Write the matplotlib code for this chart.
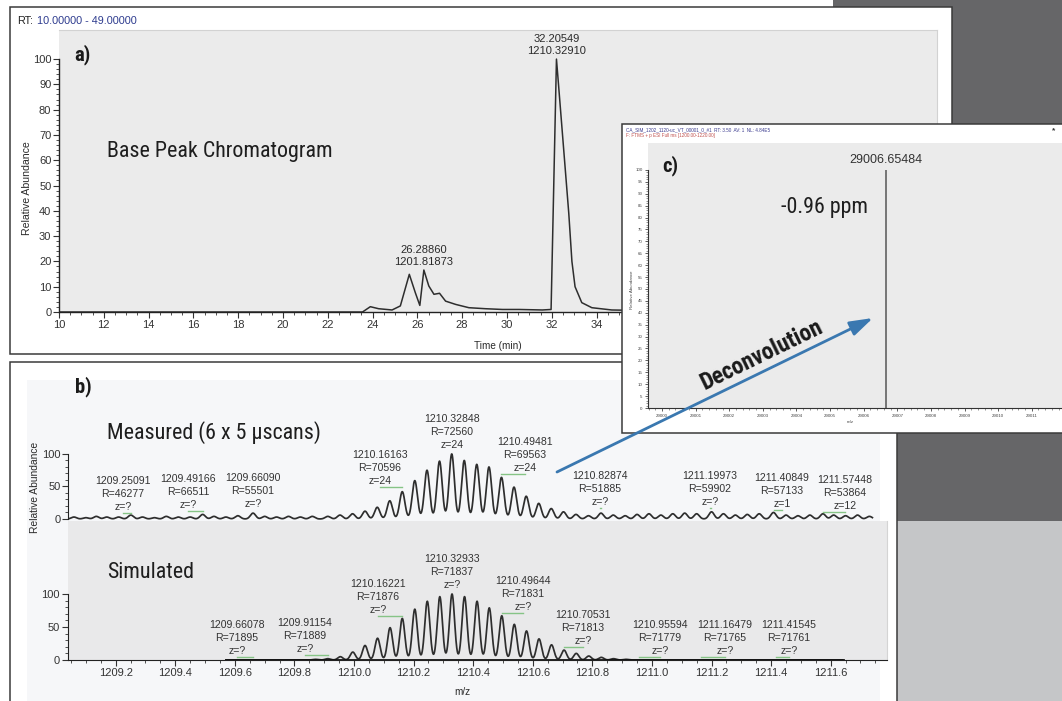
import numpy as np
import matplotlib
matplotlib.use("Agg")
import matplotlib.pyplot as plt
from matplotlib import font_manager
from matplotlib.patches import Rectangle, FancyArrowPatch
from matplotlib.lines import Line2D
from matplotlib.transforms import Affine2D
from matplotlib.ticker import MultipleLocator, FixedLocator, FormatStrFormatter

# ---------------------------------------------------------------- data
# (a) base peak chromatogram (retention time in min, relative abundance)
rt_min = [10.0, 23.55, 23.90, 24.27, 24.87, 25.24, 25.64, 25.91, 26.11, 26.29,
          26.51, 26.74, 26.99, 27.26, 27.71, 28.30, 29.04, 29.80, 30.54, 31.58,
          31.97, 32.21, 32.31, 32.76, 32.90, 33.04, 33.34, 33.79, 34.68, 36.0]
bpc_rel = [0.0, 0.0, 2.1, 1.3, 0.8, 2.4, 14.9, 7.6, 2.6, 16.6,
           10.3, 7.0, 7.4, 4.3, 3.0, 1.7, 1.3, 1.0, 1.0, 0.8,
           1.0, 100.0, 89.0, 39.0, 20.0, 10.0, 3.7, 1.7, 0.8, 0.6]
bpc_peak_rt = [26.28860, 32.20549]
bpc_peak_mz = [1201.81873, 1210.32910]
bpc_peak_abund = [16.6, 100.0]
rt_tick_labels = [10, 12, 14, 16, 18, 20, 22, 24, 26, 28, 30, 32, 34]

# (b) measured isotope cluster (m/z, relative abundance)
meas_mz = [1209.912, 1209.953, 1209.995, 1210.037, 1210.078, 1210.120, 1210.162,
           1210.204, 1210.245, 1210.287, 1210.328, 1210.370, 1210.412, 1210.453,
           1210.495, 1210.537, 1210.578, 1210.620, 1210.662, 1210.703, 1210.745,
           1210.787]
meas_int = [4, 6, 8, 12, 18, 28, 42, 59, 75, 89, 100, 90, 84, 80, 64, 49, 35,
            24, 16, 11, 7, 5]
# measured baseline noise peaks
noise_mz = [1209.06, 1209.10, 1209.135, 1209.17, 1209.21, 1209.251, 1209.29,
            1209.33, 1209.37, 1209.41, 1209.45, 1209.492, 1209.53, 1209.57,
            1209.61, 1209.661, 1209.70, 1209.74, 1209.78, 1209.82, 1209.86,
            1210.829, 1210.87, 1210.91, 1210.95, 1210.99, 1211.03, 1211.07,
            1211.11, 1211.15, 1211.20, 1211.24, 1211.28, 1211.32, 1211.36,
            1211.408, 1211.45, 1211.49, 1211.53, 1211.574, 1211.61, 1211.65,
            1211.69, 1211.73]
noise_int = [3, 2, 4, 3, 3, 6, 3, 2, 4, 3, 3, 7, 4, 3, 5, 9, 4, 3, 4, 3, 4,
             9, 6, 5, 7, 8, 6, 8, 9, 8, 11, 8, 6, 7, 8, 10, 6, 5, 6, 8, 6, 5,
             6, 4]
# (b) simulated isotope cluster
sim_mz = [1209.871, 1209.912, 1209.954, 1209.996, 1210.037, 1210.079, 1210.121,
          1210.162, 1210.204, 1210.246, 1210.288, 1210.329, 1210.371, 1210.413,
          1210.454, 1210.496, 1210.538, 1210.579, 1210.621, 1210.663, 1210.705,
          1210.746, 1210.788, 1210.830, 1210.871, 1210.913]
sim_int = [1, 2, 5, 12, 22, 33, 49, 63, 77, 89, 96, 100, 96, 89, 79, 67, 54, 44,
           32, 23, 15, 10, 6, 4, 2, 1]
sim_range = [1209.57, 1211.64]

# peak annotations: m/z, resolution, charge
meas_lab_mz = [1209.25091, 1209.49166, 1209.66090, 1210.16163, 1210.32848,
               1210.49481, 1210.82874, 1211.19973, 1211.40849, 1211.57448]
meas_lab_R = [46277, 66511, 55501, 70596, 72560, 69563, 51885, 59902, 57133, 53864]
meas_lab_z = ["?", "?", "?", "24", "24", "24", "?", "?", "1", "12"]
sim_lab_mz = [1209.66078, 1209.91154, 1210.16221, 1210.32933, 1210.49644,
              1210.70531, 1210.95594, 1211.16479, 1211.41545]
sim_lab_R = [71895, 71889, 71876, 71837, 71831, 71813, 71779, 71765, 71761]
sim_lab_z = ["?"] * 9

# (c) deconvoluted mass
deconv_mass = [29006.65484]
deconv_abund = [100.0]
ppm_error = -0.96

# ---------------------------------------------------------------- layout (pixels)
meas_lab_xy = [(123, 494), (188, 492), (253, 491), (380, 468), (452, 432),
               (525, 455), (600, 489), (710, 489), (782, 491), (845, 493)]
sim_lab_xy = [(237, 638), (305, 636), (378, 597), (452, 572), (523, 594),
              (583, 628), (660, 638), (725, 638), (789, 638)]

W, H = 1062, 701
plt.rcParams["font.family"] = ["Liberation Sans", "DejaVu Sans"]

# condensed face for the annotation texts, if one is installed
flist = font_manager.fontManager.ttflist
names = {f.name for f in flist}
cond_kw, cs = {"family": "Liberation Sans"}, 0.82
for cand, scale in [("Liberation Sans Narrow", 1.0), ("Arial Narrow", 1.0),
                    ("Roboto Condensed", 0.93), ("Open Sans Condensed", 0.95),
                    ("Noto Sans Condensed", 0.92)]:
    if cand in names:
        cond_kw, cs = {"family": cand}, scale
        break
else:
    for fam, scale in [("Noto Sans", 0.92), ("Open Sans", 0.95), ("Roboto", 0.93)]:
        if any(f.name == fam and f.stretch in ("condensed", "semi-condensed")
               for f in flist):
            st = [f.stretch for f in flist if f.name == fam and
                  f.stretch in ("condensed", "semi-condensed")][0]
            cond_kw, cs = {"family": fam, "stretch": st}, scale
            break

fig = plt.figure(figsize=(W / 100, H / 100), dpi=100)
fig.patch.set_facecolor("white")
pix = Affine2D().scale(1.0 / W, -1.0 / H).translate(0, 1) + fig.transFigure

TXT = "#2a2a2a"
TRACE = "#2e2e2e"
GREEN = "#86c486"


def rect(x0, y0, x1, y1, fc, ec="none", lw=0, z=1):
    r = Rectangle((x0, y0), x1 - x0, y1 - y0, transform=pix, facecolor=fc,
                  edgecolor=ec, linewidth=lw, zorder=z)
    fig.add_artist(r)


def text(x, y, s, z=3, **kw):
    return fig.text(x, y, s, transform=pix, zorder=z, **kw)


def axes_px(x0, y0, x1, y1, z):
    ax = fig.add_axes([x0 / W, 1 - y1 / H, (x1 - x0) / W, (y1 - y0) / H])
    ax.set_zorder(z)
    return ax


# background blocks
rect(833, 0, W + 5, 521, "#666668", z=0.1)
rect(897, 521, W + 5, H + 5, "#c5c6c8", z=0.1)

# ================================================================ panel a
rect(9.5, 7, 952, 354, "white", "#3a3a3a", 1.1, z=1)
axa = axes_px(59, 30, 937, 312, 2)
axa.set_facecolor("#ebebeb")
axa.plot(rt_min, bpc_rel, color=TRACE, lw=1.1)
axa.set_xlim(10, 49.2)
axa.set_ylim(0, 111.5)
for s in ["top", "right"]:
    axa.spines[s].set_color("#d2d2d2")
    axa.spines[s].set_linewidth(0.8)
for s in ["left", "bottom"]:
    axa.spines[s].set_color("#222222")
    axa.spines[s].set_linewidth(1.0)
axa.spines["left"].set_bounds(0, 100)
axa.xaxis.set_major_locator(FixedLocator(rt_tick_labels))
axa.xaxis.set_minor_locator(FixedLocator(np.arange(10, 35.1, 0.5)))
axa.yaxis.set_major_locator(FixedLocator(range(0, 101, 10)))
axa.yaxis.set_minor_locator(FixedLocator(range(0, 101, 2)))
axa.tick_params(which="major", direction="out", length=4, width=0.8,
                colors="#333333", labelsize=8, pad=1.5)
axa.tick_params(which="minor", direction="out", length=2, width=0.6,
                colors="#333333")
for rt, mz, ab in zip(bpc_peak_rt, bpc_peak_mz, bpc_peak_abund):
    axa.text(rt, ab + 1.2, f"{rt:.5f}\n{mz:.5f}", ha="center", va="bottom",
             fontsize=8, color=TXT, linespacing=1.25)
text(17, 21, "RT:", z=2.5, fontsize=7.8, color="#222222", va="center")
text(37, 21, "10.00000 - 49.00000", z=2.5, fontsize=7.8, color="#2d3b8e",
     va="center")
text(27, 188, "Relative Abundance", z=2.5, fontsize=7.6, color=TXT,
     rotation=90, ha="center", va="center")
text(498, 346, "Time (min)", z=2.5, fontsize=7.2, color=TXT, ha="center",
     va="center")
text(74, 55, "a)", z=2.5, fontsize=16 * cs, fontweight="bold", color="#1a1a1a",
     va="center", **cond_kw)
text(107, 152, "Base Peak Chromatogram", z=2.5, fontsize=17 * cs,
     color="#1e1e1e", va="center", **cond_kw)

# ================================================================ panel b
rect(9.5, 362, 897, H + 10, "white", "#3a3a3a", 1.1, z=3)
rect(27, 380, 880, H + 10, "#f6f7f9", z=3.05)

xl = (1209.04, 1211.789)
# measured
axm = axes_px(68, 400, 887, 521, 4)
axm.patch.set_alpha(0)
xm = np.linspace(1209.04, 1211.74, 5000)
sig_m = 0.0088
ym = np.zeros_like(xm)
for m, h in zip(meas_mz + noise_mz, meas_int + noise_int):
    ym += h * np.exp(-0.5 * ((xm - m) / sig_m) ** 2)
axm.plot(xm, ym, color=TRACE, lw=1.25)
axm.set_xlim(*xl)
axm.set_ylim(-3.1, 183)
for s in ["top", "right", "bottom"]:
    axm.spines[s].set_visible(False)
axm.spines["left"].set_bounds(0, 100)
axm.spines["left"].set_color("#222222")
axm.set_xticks([])
axm.yaxis.set_major_locator(FixedLocator([0, 50, 100]))
axm.yaxis.set_minor_locator(FixedLocator(range(0, 101, 10)))
axm.tick_params(which="major", direction="out", length=4, width=0.8,
                colors="#333333", labelsize=8, pad=1.5)
axm.tick_params(which="minor", direction="out", length=2, width=0.6,
                colors="#333333")

# simulated
axs = axes_px(68, 521, 887, 660, 4)
axs.set_facecolor("#e9e9ea")
xs = np.linspace(sim_range[0], sim_range[1], 4000)
sig_s = 0.0085
ys = np.zeros_like(xs)
for m, h in zip(sim_mz, sim_int):
    ys += h * np.exp(-0.5 * ((xs - m) / sig_s) ** 2)
axs.plot(xs, ys, color=TRACE, lw=1.25)
axs.plot(sim_range, [0, 0], color="#111111", lw=2.0)
axs.set_xlim(*xl)
axs.set_ylim(0, 210.6)
axs.spines["top"].set_visible(False)
axs.spines["right"].set_color("#d4d4d4")
axs.spines["left"].set_bounds(0, 100)
axs.spines["left"].set_color("#222222")
axs.spines["bottom"].set_color("#222222")
axs.xaxis.set_major_locator(MultipleLocator(0.2))
axs.xaxis.set_minor_locator(MultipleLocator(0.05))
axs.xaxis.set_major_formatter(FormatStrFormatter("%.1f"))
axs.yaxis.set_major_locator(FixedLocator([0, 50, 100]))
axs.yaxis.set_minor_locator(FixedLocator(range(0, 101, 10)))
axs.tick_params(which="major", direction="out", length=4, width=0.8,
                colors="#333333", labelsize=8, pad=2)
axs.tick_params(which="minor", direction="out", length=2, width=0.6,
                colors="#333333")


def peak_labels(ax, mzs, Rs, zs, xy):
    for mz, R, z, (px, py) in zip(mzs, Rs, zs, xy):
        text(px, py, f"{mz:.5f}\nR={R}\nz={z}", z=4.5, fontsize=7.6,
             color="#333333", ha="center", va="center", linespacing=1.4)
        peak_x = ax.transData.transform((mz, 0))[0]
        fig.add_artist(Line2D([px, peak_x], [py + 19, py + 19], transform=pix,
                              color=GREEN, lw=1.0, zorder=4.4))


peak_labels(axm, meas_lab_mz, meas_lab_R, meas_lab_z, meas_lab_xy)
peak_labels(axs, sim_lab_mz, sim_lab_R, sim_lab_z, sim_lab_xy)

text(35, 487, "Relative Abundance", z=4.5, fontsize=7.4, color=TXT,
     rotation=90, ha="center", va="center")
text(462, 692, "m/z", z=4.5, fontsize=7.2, color=TXT, ha="center", va="center")
text(75, 387, "b)", z=4.5, fontsize=16 * cs, fontweight="bold",
     color="#1a1a1a", va="center", **cond_kw)
text(107, 433, "Measured (6 x 5 \u00b5scans)", z=4.5, fontsize=17 * cs,
     color="#1e1e1e", va="center", **cond_kw)
text(107, 572, "Simulated", z=4.5, fontsize=17 * cs, color="#1e1e1e",
     va="center", **cond_kw)

# ================================================================ panel c
rect(622, 124, W + 30, 433, "white", "#3a3a3a", 1.1, z=5)
axc = axes_px(648, 143, 1062, 408, 6)
axc.set_facecolor("#ebebeb")
axc.vlines(deconv_mass, 0, deconv_abund, color="#555555", lw=1.1)
axc.set_xlim(28999.583, 29011.9)
axc.set_ylim(0, 111.3)
for s in ["top", "right"]:
    axc.spines[s].set_visible(False)
for s in ["left", "bottom"]:
    axc.spines[s].set_color("#333333")
    axc.spines[s].set_linewidth(0.8)
axc.spines["left"].set_bounds(0, 100)
axc.xaxis.set_major_locator(FixedLocator(range(29000, 29012)))
axc.xaxis.set_minor_locator(MultipleLocator(0.2))
axc.xaxis.set_major_formatter(FormatStrFormatter("%d"))
axc.yaxis.set_major_locator(FixedLocator(range(0, 101, 5)))
axc.yaxis.set_minor_locator(FixedLocator(range(0, 101, 1)))
axc.tick_params(which="major", direction="out", length=2.5, width=0.6,
                colors="#444444", labelsize=3.2, pad=1.5)
axc.tick_params(which="minor", direction="out", length=1.2, width=0.4,
                colors="#444444")
axc.text(deconv_mass[0], deconv_abund[0] + 1.5, f"{deconv_mass[0]:.5f}",
         ha="center", va="bottom", fontsize=9, color="#333333")
text(626, 130, "CA_SIM_1202_1120-uc_VT_00001_0_#1  RT: 3.50  AV: 1  NL: 4.84E5",
     z=6.5, fontsize=3.3, color="#3b3b8f", va="center")
text(626, 136, "F: FTMS + p ESI Full ms [1200.00-1220.00]", z=6.5,
     fontsize=3.3, color="#c0504d", va="center")
text(1054, 131, "*", z=6.5, fontsize=6, color="#333333", ha="center",
     va="center", fontweight="bold")
text(632, 290, "Relative Abundance", z=6.5, fontsize=3.2, color="#444444",
     rotation=90, ha="center", va="center")
text(850, 422, "m/z", z=6.5, fontsize=3.2, color="#444444", ha="center",
     va="center")
text(662, 166, "c)", z=6.5, fontsize=16 * cs, fontweight="bold",
     color="#1a1a1a", va="center", **cond_kw)
text(781, 207, f"{ppm_error:.2f} ppm", z=6.5, fontsize=17 * cs,
     color="#1e1e1e", va="center", **cond_kw)

# ================================================================ arrow
arr = FancyArrowPatch((557, 472), (873, 318), transform=pix,
                      arrowstyle="-|>,head_length=1.0,head_width=0.32",
                      mutation_scale=14, lw=2.0, color="#3a78b0",
                      shrinkA=0, shrinkB=0, zorder=7)
fig.add_artist(arr)
text(762, 355, "Deconvolution", z=7.5, fontsize=18 * cs, fontweight="bold",
     color="#1a1a1a", rotation=26, rotation_mode="anchor",
     ha="center", va="center", **cond_kw)

fig.savefig("out.png", dpi=100)
